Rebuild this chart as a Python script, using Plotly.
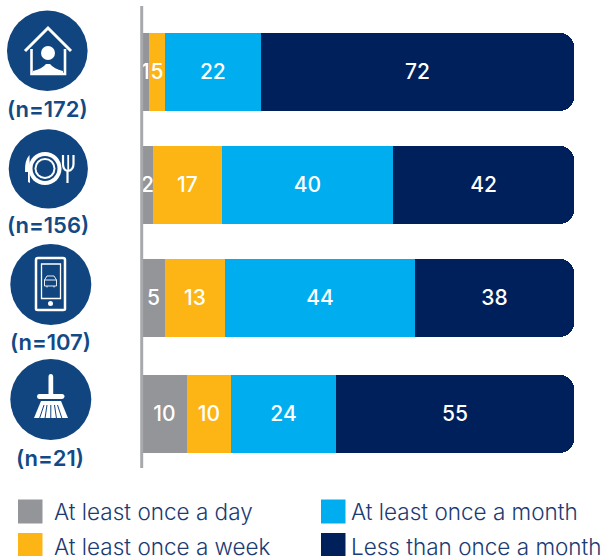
import re
import plotly.graph_objects as go

W, H = 601, 556
groups = ["(n=172)", "(n=156)", "(n=107)", "(n=21)"]
series_names = ["At least once a day", "At least once a week", "At least once a month", "Less than once a month"]
colors = ["#939598", "#FDB515", "#00AEEF", "#00205B"]
# shares as measured from the bar lengths, and the rounded labels printed on them
day_share = [1.6, 2.5, 5.3, 10.4]
week_share = [3.7, 16.0, 13.9, 10.2]
month_share = [22.2, 39.6, 44.0, 24.3]
less_share = [72.5, 41.9, 36.8, 55.1]
day_labels = ["1", "2", "5", "10"]
week_labels = ["5", "17", "13", "10"]
month_labels = ["22", "40", "44", "24"]
less_labels = ["72", "42", "38", "55"]

FONT = "Inter"
NAVY = "#11457F"
TXT = "#1B3B72"
ML, MR, MT, MB = 142, 27, 7, 89
BAR_W = 0.684
UNIT_PX = 114  # pixels per category row
# the source rows are not evenly spaced: small per-row nudges, in pixels
nudge_px = [0, -1, -2, 0]
offsets = [-BAR_W / 2 + n / UNIT_PX for n in nudge_px]

fig = go.Figure()
shares = [day_share, week_share, month_share, less_share]
labels = [day_labels, week_labels, month_labels, less_labels]
for name, col, s, l in zip(series_names, colors, shares, labels):
    fig.add_trace(go.Bar(
        y=groups, x=s, name=name, orientation="h", text=l, width=BAR_W, offset=offsets,
        marker=dict(color=col, line=dict(width=0)),
        textposition="inside", insidetextanchor="middle", constraintext="none",
        textangle=0, cliponaxis=False,
        textfont=dict(color="white", size=21, family=FONT, weight=500),
    ))


def px(x):
    return (x - ML) / (W - ML - MR)


def py(y):
    return (H - MB - y) / (H - MT - MB)


def conv(path):
    toks = re.findall(r"[MLCQZ]|-?\d+\.?\d*", path)
    out, isx = [], True
    for t in toks:
        if t in "MLCQZ":
            out.append(t)
            isx = True
        else:
            v = float(t)
            out.append(f"{px(v) if isx else py(v):.5f}")
            isx = not isx
    return " ".join(out)


shapes = []


def circle(cx, cy, r, fill="white", line=None, lw=0):
    shapes.append(dict(type="circle", xref="paper", yref="paper", x0=px(cx - r), x1=px(cx + r),
                       y0=py(cy - r), y1=py(cy + r), fillcolor=fill,
                       line=dict(color=line or fill, width=lw), layer="above"))


def path(d, fill=None, line=None, lw=0):
    s = dict(type="path", xref="paper", yref="paper", path=conv(d), layer="above",
             line=dict(color=line or "rgba(0,0,0,0)", width=lw))
    s["fillcolor"] = fill if fill else "rgba(0,0,0,0)"
    shapes.append(s)


def rect(x0, y0, x1, y1, fill):
    shapes.append(dict(type="rect", xref="paper", yref="paper", x0=px(x0), x1=px(x1), y0=py(y0), y1=py(y1),
                       fillcolor=fill, line=dict(width=0), layer="above"))


# baseline rule at the start of the bars
path("M 141.7 6 L 141.7 468", line="#A7A9AC", lw=3)

# icon discs
circle(47.3, 50.8, 40.3, NAVY)
circle(48.3, 168.8, 39.6, NAVY)
circle(50.8, 284.5, 40.5, NAVY)
circle(50.8, 399.5, 40.5, NAVY)

# house
path("M 25 51 L 48 28 L 71 51", line="white", lw=3)
path("M 31.5 49 L 31.5 74 L 65 74 L 65 49", line="white", lw=2.6)
circle(48, 53, 7)
path("M 33 75 L 33 71 Q 42 69 46 64 L 50 64 Q 54 69 63 71 L 63 75 Z", fill="white")

# plate, knife, fork
circle(45, 168.5, 16.5)
circle(45, 168.5, 12.5, NAVY)
circle(45, 168.5, 10.5)
circle(45, 168.5, 8.5, NAVY)
path("M 29.5 155 Q 24.5 160 25 172 L 28 172 L 28 182 L 30 183 Z", fill="white")
path("M 63 155 L 63 164 Q 63 170 67.5 171 L 67.5 183", line="white", lw=2.2)
path("M 73.5 155 L 73.5 164 Q 73.5 170 68 171", line="white", lw=2.2)
path("M 68.2 155 L 68.2 170", line="white", lw=1.8)

# phone
path("M 38 258 L 63 258 Q 65 258 65 260 L 65 309 Q 65 310 63 310 L 38 310 Q 36 310 36 309 L 36 260 Q 36 258 38 258 Z",
     line="white", lw=2.5)
path("M 41.5 264 L 60.5 264 L 60.5 298.5 L 41.5 298.5 Z", line="white", lw=1.3)
circle(50.5, 303.5, 2.5)
path("M 44.5 286 L 44.5 280 L 47 276 L 54 276 L 56.5 280 L 56.5 286 Z M 44.5 280 L 56.5 280 M 47 286 L 47 287.5 M 54 286 L 54 287.5",
     line="white", lw=0.9)

# broom
path("M 48.5 377 Q 48.5 374 50.8 374 Q 53.2 374 53.2 377 L 53.2 395 L 48.5 395 Z", fill="white")
path("M 39 394 L 62 394 Q 64.5 394 64.5 396.5 Q 64.5 399 62 399 L 39 399 Q 37 399 37 396.5 Q 37 394 39 394 Z",
     fill="white")
path("M 41 401 L 61 401 L 68 418 L 34 418 Z", fill="white")
for x0, x1 in [(44, 39.5), (47, 45), (50.8, 50.8), (54.5, 56.5), (57.5, 62)]:
    path(f"M {x0} 405 L {x1} 418.5", line=NAVY, lw=1)

# legend swatches
legend_pos = [(18, 499.5, 52, 511.5), (18, 533, 52, 546), (321, 499.5, 349, 511.5), (321, 533, 349, 546)]
for (sx, sy, tx, ty), col in zip(legend_pos, colors):
    rect(sx, sy, sx + 24.5, sy + 24, col)

ann = []
for name, (sx, sy, tx, ty) in zip(series_names, legend_pos):
    ann.append(dict(text=name, xref="paper", yref="paper", x=px(tx), y=py(ty), xanchor="left", yanchor="middle",
                    showarrow=False, font=dict(size=22.5, color=TXT, family=FONT, weight=300)))
for g, (cx, cy) in zip(groups, [(47, 109), (48, 225), (50, 342), (50, 458)]):
    ann.append(dict(text=g, xref="paper", yref="paper", x=px(cx), y=py(cy), xanchor="center", yanchor="middle",
                    showarrow=False, font=dict(size=22, color="#134A85", family=FONT, weight=600)))

fig.update_layout(
    width=W, height=H, autosize=False, barmode="stack", showlegend=False,
    margin=dict(l=ML, r=MR, t=MT, b=MB, pad=0),
    plot_bgcolor="white", paper_bgcolor="white", barcornerradius=14,
    xaxis=dict(range=[0, 100], visible=False, fixedrange=True),
    yaxis=dict(type="category", categoryorder="array", categoryarray=groups, range=[3.465, -0.57],
               showticklabels=False, ticks="", showgrid=False, zeroline=False, showline=False),
    shapes=shapes, annotations=ann,
)
fig.write_html("out.html", config={"displayModeBar": False},
               post_script="document.body.style.margin='0';document.body.style.overflow='hidden';")
